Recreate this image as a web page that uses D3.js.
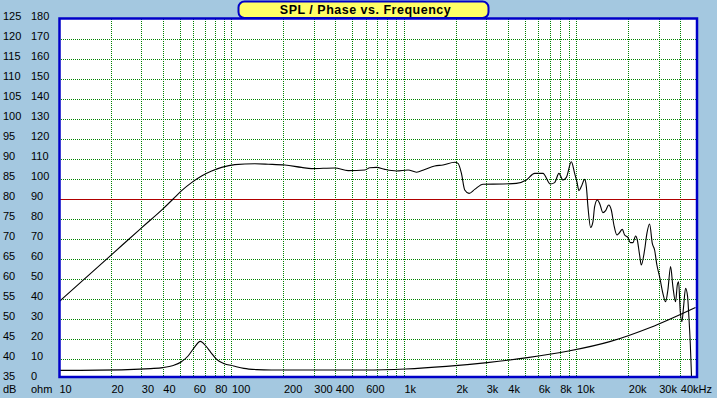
<!DOCTYPE html>
<html>
<head>
<meta charset="utf-8">
<script src="https://cdn.jsdelivr.net/npm/d3@7"></script>
<style>
  html, body { margin: 0; padding: 0; background: #a4c8e0; }
  #chart { width: 717px; height: 398px; }
  text { font-family: "Liberation Sans", Arial, sans-serif; }
</style>
</head>
<body>
<div id="chart"></div>
<script>

// spl curve (Hz, dB)
var splFreq = [10, 20.2, 30.1, 40.2, 45.9, 51.4, 58.7, 67.1, 76.7, 87.6, 104.6, 136.6, 163.2, 204, 254.8, 291,
    397, 474.5, 593, 634, 693, 774, 904, 1056, 1182, 1320, 1508, 1684, 1969, 2058, 2154, 2251, 2384, 2572,
    2873, 3752, 4485, 5124, 5725, 6395, 7063, 7476, 7917, 8353, 8741, 9343, 9762, 10068, 10340, 10676,
    11157, 11414, 11660, 12085, 12461, 12748, 13215, 13627, 14240, 14764, 15366, 15928, 16491, 17166,
    17631, 18451, 19025, 19880, 20527, 21254, 22029, 22533, 23237, 23768, 24839, 25618, 26556, 27527,
    28388, 29274, 30339, 31710, 32870, 33893, 35146, 36240, 37565, 38430, 39100, 40000, 40860, 41800,
    42930, 44100, 44860, 45710, 46330, 46510];
var splDb = [54.3, 66.1, 72.8, 77.6, 80, 82.1, 84.1, 85.75, 87, 87.9, 88.6, 88.8, 88.7, 88.5, 87.9, 87.6,
    87.75, 87.1, 87.25, 87.8, 87.9, 87.4, 87, 87.25, 86.7, 87.4, 88.25, 88.5, 89.2, 88.9, 86.4, 82.25, 81.4, 82.4,
    83.7, 83.75, 83.9, 84.75, 86.4, 86.4, 83.75, 84.1, 86.4, 84.75, 85.4, 89.3, 86.4, 84.3, 82.1, 83.1,
    84.9, 83.1, 78.1, 72.9, 74.3, 78.1, 79.75, 78.9, 76.6, 77.1, 78.5, 77.25, 73.5, 71,
    71.4, 72.4, 71, 70.4, 69.1, 69.1, 70.75, 69.75, 66, 63.5, 67.25, 71.4, 73.75, 68.9,
    67.25, 63.5, 60.6, 56.4, 54.3, 57.25, 63.1, 58.1, 54.3, 58.5, 59.3, 51.8, 49.3, 53.1,
    57.7, 55.6, 50.6, 43.9, 37.25, 35];

// impedance curve (Hz, ohm)
var impFreq = [10, 25, 34, 40, 46, 51, 56, 60, 66, 71, 76, 82, 90, 103, 118, 140, 170, 590, 1020, 1760,
    3040, 5200, 9000, 15600, 26800, 49000];
var impOhm = [4.3, 4.7, 5.2, 5.7, 6.8, 8.5, 11.5, 15, 18.8, 16.5, 13.2, 9.8, 7.8, 6.5, 5.3, 4.7, 4.5, 4.5, 5, 6.3,
    8.2, 10.7, 14, 18.7, 25.8, 35.8];

// axis labels
var dbTicks = [125, 120, 115, 110, 105, 100, 95, 90, 85, 80, 75, 70, 65, 60, 55, 50, 45, 40, 35];
var ohmTicks = [180, 170, 160, 150, 140, 130, 120, 110, 100, 90, 80, 70, 60, 50, 40, 30, 20, 10, 0];
var freqTicks = [10, 20, 30, 40, 60, 80, 100, 200, 300, 400, 600, 1000, 2000, 3000, 4000, 6000, 8000, 10000, 20000, 30000, 40000];
var freqLabels = ["10", "20", "30", "40", "60", "80", "100", "200", "300", "400", "600", "1k", "2k", "3k", "4k", "6k", "8k", "10k", "20k", "30k", "40kHz"];
var title = "SPL / Phase vs. Frequency";

var W = 717, H = 398;
var plotL = 59, plotR = 697, plotT = 19, plotB = 379;

var svg = d3.select("#chart")
    .append("svg")
    .attr("width", W)
    .attr("height", H);

var x = d3.scaleLog().domain([10, 50000]).range([plotL, plotR]);
var y = d3.scaleLinear().domain([35, 125]).range([plotB, plotT]);
var yOhm = d3.scaleLinear().domain([0, 180]).range([plotB, plotT]);

// plot background
svg.append("rect")
    .attr("x", plotL).attr("y", plotT)
    .attr("width", plotR - plotL).attr("height", 358)
    .attr("fill", "#ffffff");

// vertical grid: every 1..9 of each decade
var gridFreqs = [];
[10, 100, 1000, 10000].forEach(function (dec) {
    for (var m = 1; m <= 9; m++) {
        var f = dec * m;
        if (f > 10 && f < 50000) gridFreqs.push(f);
    }
});

svg.append("g").selectAll("line")
    .data(gridFreqs)
    .enter()
    .append("line")
    .attr("x1", function (d) { return Math.round(x(d)) + 0.5; })
    .attr("x2", function (d) { return Math.round(x(d)) + 0.5; })
    .attr("y1", plotT)
    .attr("y2", 377)
    .attr("stroke", "#008000")
    .attr("stroke-dasharray", "1,1")
    .attr("shape-rendering", "crispEdges");

// horizontal grid
var gridDb = dbTicks.filter(function (d) { return d > 35 && d < 125; });

svg.append("g").selectAll("line")
    .data(gridDb)
    .enter()
    .append("line")
    .attr("x1", plotL)
    .attr("x2", plotR)
    .attr("y1", function (d) { return Math.round(y(d)) + 0.5; })
    .attr("y2", function (d) { return Math.round(y(d)) + 0.5; })
    .attr("stroke", function (d) { return d == 80 ? "#b00000" : "#008000"; })
    .attr("stroke-dasharray", function (d) { return d == 80 ? null : "1,1"; })
    .attr("shape-rendering", "crispEdges");

// curves
svg.append("clipPath")
    .attr("id", "plotclip")
    .append("rect")
    .attr("x", plotL).attr("y", plotT)
    .attr("width", plotR - plotL).attr("height", 358);

var splLine = d3.line()
    .x(function (d, i) { return x(splFreq[i]); })
    .y(function (d) { return y(d); })
    .curve(d3.curveMonotoneX);

var impLine = d3.line()
    .x(function (d, i) { return x(impFreq[i]); })
    .y(function (d) { return yOhm(d); })
    .curve(d3.curveMonotoneX);

svg.append("path")
    .datum(impOhm)
    .attr("clip-path", "url(#plotclip)")
    .attr("fill", "none")
    .attr("stroke", "#000000")
    .attr("stroke-width", 1.1)
    .attr("d", impLine);

svg.append("path")
    .datum(splDb)
    .attr("clip-path", "url(#plotclip)")
    .attr("fill", "none")
    .attr("stroke", "#000000")
    .attr("stroke-width", 1.1)
    .attr("d", splLine);

// frame
svg.append("rect")
    .attr("x", 59.5).attr("y", 18.5)
    .attr("width", 637.5).attr("height", 358.5)
    .attr("fill", "none")
    .attr("stroke", "#0000c8")
    .attr("stroke-width", 2.5);

// left labels
svg.append("g").selectAll("text")
    .data(dbTicks)
    .enter()
    .append("text")
    .attr("x", 3)
    .attr("y", function (d) { return y(d) + 0.5; })
    .style("font-size", "11px")
    .attr("fill", "#000")
    .text(function (d) { return d; });

svg.append("g").selectAll("text")
    .data(ohmTicks)
    .enter()
    .append("text")
    .attr("x", 31)
    .attr("y", function (d) { return yOhm(d) + 0.5; })
    .style("font-size", "11px")
    .attr("fill", "#000")
    .text(function (d) { return d; });

// bottom labels
svg.append("g").selectAll("text")
    .data(freqTicks)
    .enter()
    .append("text")
    .attr("x", function (d) { return x(d) + 0.5; })
    .attr("y", 393)
    .style("font-size", "11px")
    .attr("fill", "#000")
    .text(function (d, i) { return freqLabels[i]; });

svg.append("text").attr("x", 3).attr("y", 393).style("font-size", "11px").text("dB");
svg.append("text").attr("x", 31).attr("y", 393).style("font-size", "11px").text("ohm");

// title box
svg.append("rect")
    .attr("x", 238.5).attr("y", 1.5)
    .attr("width", 250).attr("height", 16.5)
    .attr("rx", 6).attr("ry", 6)
    .attr("fill", "#ffff66")
    .attr("stroke", "#0000c8")
    .attr("stroke-width", 2);

svg.append("text")
    .attr("x", 365.5)
    .attr("y", 14)
    .attr("text-anchor", "middle")
    .style("font-size", "12.5px")
    .style("font-weight", "bold")
    .style("letter-spacing", "0.5px")
    .text(title);

</script>
</body>
</html>
